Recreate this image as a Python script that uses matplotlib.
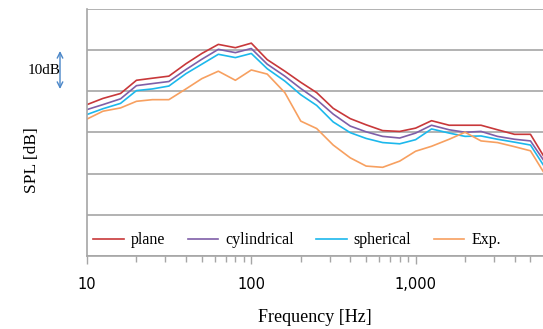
import numpy as np
import matplotlib
matplotlib.use("Agg")
import matplotlib.pyplot as plt
from matplotlib.ticker import FixedLocator, NullFormatter

# 1/3 octave band centre frequencies [Hz]
freq = [10, 12.5, 16, 20, 25, 31.5, 40, 50, 63, 80, 100, 125, 160, 200, 250,
        315, 400, 500, 630, 800, 1000, 1250, 1600, 2000, 2500, 3150, 4000, 5000, 6300]

# SPL [dB]
plane = [36.7, 38.2, 39.4, 42.6, 43.1, 43.6, 46.6, 49.1, 51.3, 50.5, 51.6, 47.6, 44.8, 42.1, 39.6,
         35.8, 33.3, 31.8, 30.4, 30.2, 31.0, 32.8, 31.7, 31.7, 31.7, 30.6, 29.5, 29.5, 22.9]
cylindrical = [35.5, 36.7, 38.1, 41.3, 41.8, 42.3, 45.2, 47.7, 50.1, 49.3, 50.3, 46.5, 43.6, 40.6, 37.9,
               34.4, 31.5, 30.1, 29.0, 28.6, 29.8, 31.7, 30.6, 30.0, 30.2, 29.0, 28.3, 27.9, 22.0]
spherical = [34.3, 35.7, 37.0, 40.1, 40.5, 41.2, 44.2, 46.5, 48.9, 48.1, 49.1, 45.4, 42.4, 39.1, 36.5,
             32.5, 29.9, 28.5, 27.5, 27.2, 28.2, 30.8, 29.8, 29.0, 29.1, 28.3, 27.6, 26.9, 20.7]
exp = [33.2, 35.1, 35.9, 37.5, 37.9, 37.9, 40.5, 43.0, 44.8, 42.6, 45.1, 44.1, 39.6, 32.7, 30.9,
       26.9, 23.8, 21.8, 21.5, 23.0, 25.4, 26.6, 28.3, 30.0, 27.9, 27.5, 26.5, 25.5, 19.0]

labels = ["plane", "cylindrical", "spherical", "Exp."]
colors = ["#C8383A", "#7F5FA8", "#1CB8EC", "#F7A060"]

serif = "Liberation Serif"

fig = plt.figure(figsize=(5.43, 3.29), dpi=100)
ax = fig.add_axes([87 / 543, 1 - 256 / 329, (543 - 87) / 543, (256 - 8.5) / 329])

for data, lab, col in zip([plane, cylindrical, spherical, exp], labels, colors):
    ax.plot(freq, data, color=col, lw=1.2, label=lab)

ax.set_xscale("log")
ax.set_xlim(10, 5960)
ax.set_ylim(0, 60)
ax.set_yticks(np.arange(0, 61, 10))
ax.set_yticklabels([])
ax.tick_params(axis="y", length=0)
ax.grid(axis="y", color="#A6A6A6", lw=1.2)
ax.set_axisbelow(True)

ax.xaxis.set_major_locator(FixedLocator([10, 100, 1000]))
ax.set_xticklabels(["10", "100", "1,000"], fontfamily="DejaVu Sans", fontsize=10.5)
minor = [m * d for d in [10, 100, 1000] for m in range(2, 10)]
ax.xaxis.set_minor_locator(FixedLocator(minor))
ax.xaxis.set_minor_formatter(NullFormatter())
ax.tick_params(axis="x", which="major", length=6, width=1, color="#A6A6A6", pad=9)
ax.tick_params(axis="x", which="minor", length=4, width=1, color="#A6A6A6")

for side in ["top", "right"]:
    ax.spines[side].set_visible(False)
for side in ["left", "bottom"]:
    ax.spines[side].set_color("#A6A6A6")
    ax.spines[side].set_linewidth(1.2)

ax.set_xlabel("Frequency [Hz]", fontfamily=serif, fontsize=13, labelpad=12)

leg = ax.legend(loc="lower left", bbox_to_anchor=(0.0, 0.005), ncol=4, frameon=False,
                prop={"family": serif, "size": 11.5}, handlelength=1.9, columnspacing=1.4,
                handletextpad=0.45, borderaxespad=0.1, borderpad=0.3)

fig.text(32 / 543, 1 - 160 / 329, "SPL [dB]", rotation=90, ha="center", va="center",
         fontfamily=serif, fontsize=12.5)
fig.text(28 / 543, 1 - 70 / 329, "10dB", ha="left", va="center", fontfamily=serif, fontsize=11)
ax.annotate("", xy=(60 / 543, 1 - 51 / 329), xytext=(60 / 543, 1 - 89 / 329),
            xycoords="figure fraction", textcoords="figure fraction",
            arrowprops=dict(arrowstyle="<->", color="#4A86C8", lw=1.0, shrinkA=0, shrinkB=0))

fig.savefig("out.png", dpi=100)
